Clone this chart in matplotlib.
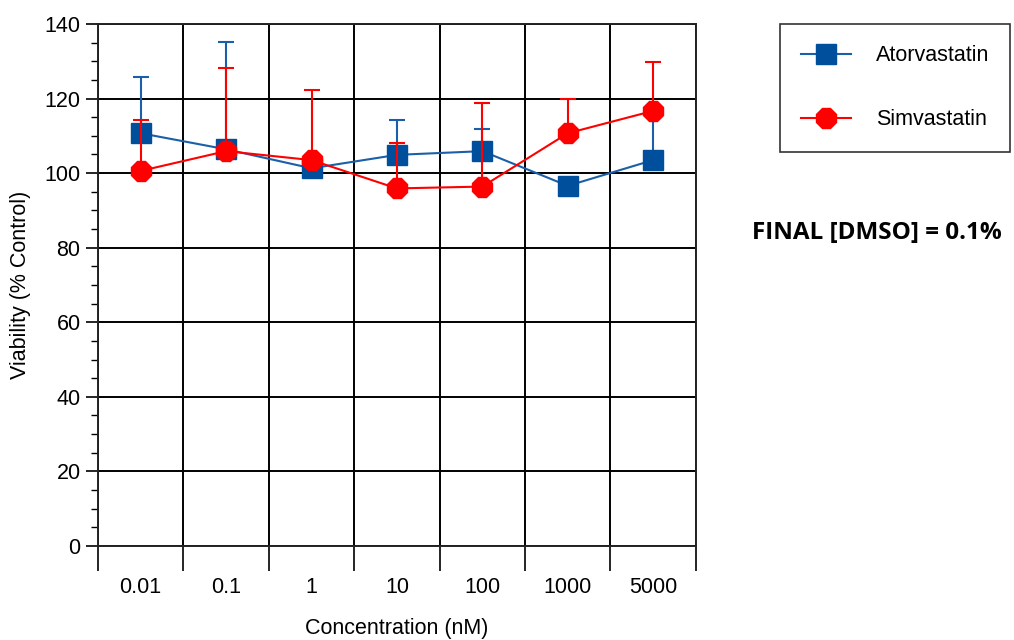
import matplotlib
matplotlib.use("Agg")
import matplotlib.pyplot as plt
import numpy as np
from matplotlib.ticker import MultipleLocator, FixedLocator, NullFormatter

plt.rcParams['font.family'] = ['Liberation Sans', 'DejaVu Sans']

concentrations = ["0.01", "0.1", "1", "10", "100", "1000", "5000"]
atorvastatin = [110.7, 106.4, 101.3, 104.9, 105.9, 96.6, 103.5]
atorvastatin_err = [15.0, 28.7, 0.0, 9.3, 5.9, 0.0, 11.5]
simvastatin = [100.6, 105.9, 103.5, 95.9, 96.4, 110.7, 116.7]
simvastatin_err = [13.7, 22.2, 18.8, 12.3, 22.3, 9.2, 13.1]

BLUE = "#1a5fa8"
BLUE_FILL = "#004f9c"
RED = "#ff0000"

fig = plt.figure(figsize=(10.14, 6.4), dpi=100)
ax = fig.add_axes([0.0966, 0.1469, 0.5897, 0.8156])

x = np.arange(len(concentrations))

# upper error bars only
ax.errorbar(x, atorvastatin, yerr=[np.zeros(len(x)), atorvastatin_err],
            color=BLUE, lw=1.5, marker='s', ms=14, mfc=BLUE_FILL, mec=BLUE_FILL,
            capsize=6, capthick=1.5, elinewidth=1.5, label="Atorvastatin", zorder=3)
ax.errorbar(x, simvastatin, yerr=[np.zeros(len(x)), simvastatin_err],
            color=RED, lw=1.5, marker='8', ms=16, mfc=RED, mec=RED,
            capsize=6, capthick=1.5, elinewidth=1.5, label="Simvastatin", zorder=4)

ax.set_xlim(-0.5, len(x) - 0.5)
ax.set_ylim(0, 140)

# y axis: majors every 20, minors every 5
ax.yaxis.set_major_locator(MultipleLocator(20))
ax.yaxis.set_minor_locator(MultipleLocator(5))
ax.tick_params(axis='y', which='major', length=9, width=1.2, labelsize=15.5, direction='out')
ax.tick_params(axis='y', which='minor', length=5, width=1.0, direction='out')

# x axis: labels centred in cells, tick marks on cell boundaries
ax.set_xticks(x)
ax.set_xticklabels(concentrations)
ax.xaxis.set_minor_locator(FixedLocator(np.arange(-0.5, len(x), 1.0)))
ax.xaxis.set_minor_formatter(NullFormatter())
ax.tick_params(axis='x', which='major', length=0, labelsize=15.5, pad=22)
ax.tick_params(axis='x', which='minor', length=18, width=1.2, direction='out')

ax.grid(True, which='minor', axis='x', color='black', lw=1.4)
ax.grid(True, which='major', axis='y', color='black', lw=1.4)
ax.set_axisbelow(True)

for side in ['left', 'bottom', 'top', 'right']:
    ax.spines[side].set_color('#222222')
    ax.spines[side].set_linewidth(1.4)

ax.set_xlabel("Concentration (nM)", fontsize=15.5, labelpad=15)
ax.set_ylabel("Viability (% Control)", fontsize=15.5, labelpad=10)

handles, labels = ax.get_legend_handles_labels()
handles = [h[0] for h in handles]
leg = fig.legend(handles, labels, loc='upper left', bbox_to_anchor=(0.769, 0.963),
                 fontsize=15.5, frameon=True, fancybox=False, edgecolor='black',
                 borderpad=1.0, labelspacing=2.0, handlelength=2.3, handletextpad=1.15,
                 borderaxespad=0)
leg.get_frame().set_linewidth(1.2)

fig.text(0.742, 0.636, "FINAL [DMSO] = 0.1%", fontsize=17.5, fontweight='bold',
         family=['Open Sans', 'DejaVu Sans'], va='center', ha='left')

fig.savefig("out.png", dpi=100)
